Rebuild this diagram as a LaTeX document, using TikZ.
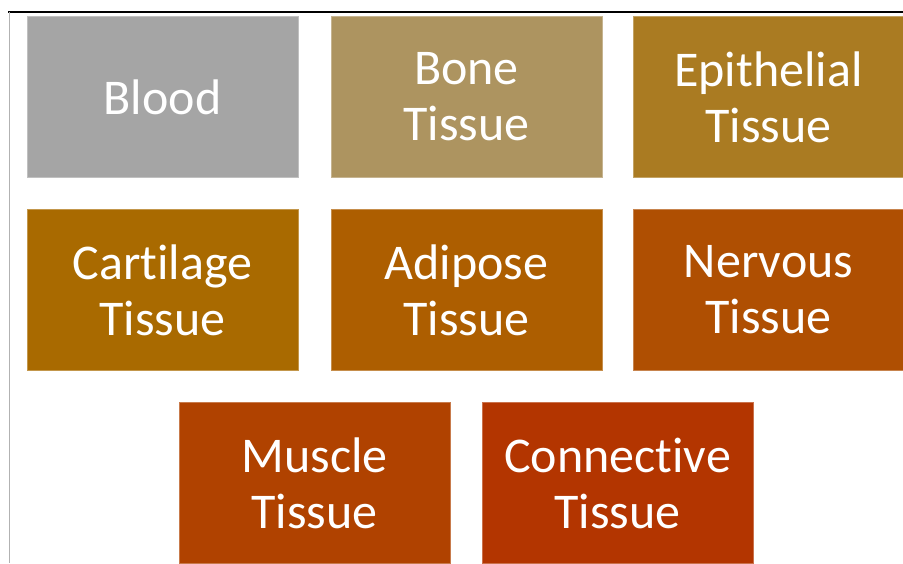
\documentclass[tikz,border=0pt]{standalone}
\usepackage{fontspec}
\setmainfont[Ligatures={NoCommon}]{Carlito}
\definecolor{cblood}{HTML}{A5A5A5}
\definecolor{cbone}{HTML}{AD9460}
\definecolor{cepi}{HTML}{AA7B22}
\definecolor{ccart}{HTML}{A96A00}
\definecolor{cadip}{HTML}{AD5E00}
\definecolor{cnerv}{HTML}{AF4F02}
\definecolor{cmusc}{HTML}{B04200}
\definecolor{cconn}{HTML}{B33500}
\tikzset{
  tissue/.style={rectangle, minimum width=271pt, minimum height=161pt, inner sep=0pt,
    text=white, align=center, font=\fontsize{50}{56}\selectfont},
}
\begin{document}
\begin{tikzpicture}[x=1pt,y=-1pt]
\useasboundingbox (0,0) rectangle (903,563);
\clip (0,0) rectangle (903,563);
\fill[white] (0,0) rectangle (903,563);
\node[tissue, fill=cblood, draw=cblood!70!white, line width=0.6pt] (blood) at (162.5,97) {Blood};
\node[tissue, fill=cbone, draw=cbone!70!white, line width=0.6pt] (bone) at (466.5,97) {Bone\\Tissue};
\node[tissue, fill=cepi, draw=cepi!70!white, line width=0.6pt] (epi) at (768.5,97) {Epithelial\\Tissue};
\node[tissue, fill=ccart, draw=ccart!70!white, line width=0.6pt] (cart) at (162.5,290) {Cartilage\\Tissue};
\node[tissue, fill=cadip, draw=cadip!70!white, line width=0.6pt] (adip) at (466.5,290) {Adipose\\Tissue};
\node[tissue, fill=cnerv, draw=cnerv!70!white, line width=0.6pt] (nerv) at (768.5,290) {Nervous\\Tissue};
\node[tissue, fill=cmusc, draw=cmusc!70!white, line width=0.6pt] (musc) at (314.5,483) {Muscle\\Tissue};
\node[tissue, fill=cconn, draw=cconn!70!white, line width=0.6pt] (conn) at (617.5,483) {Connective\\Tissue};
\draw[black, line width=2pt] (8,12) -- (903,12);
\draw[gray!60, line width=1.2pt] (9.5,12) -- (9.5,563);
\end{tikzpicture}
\end{document}
